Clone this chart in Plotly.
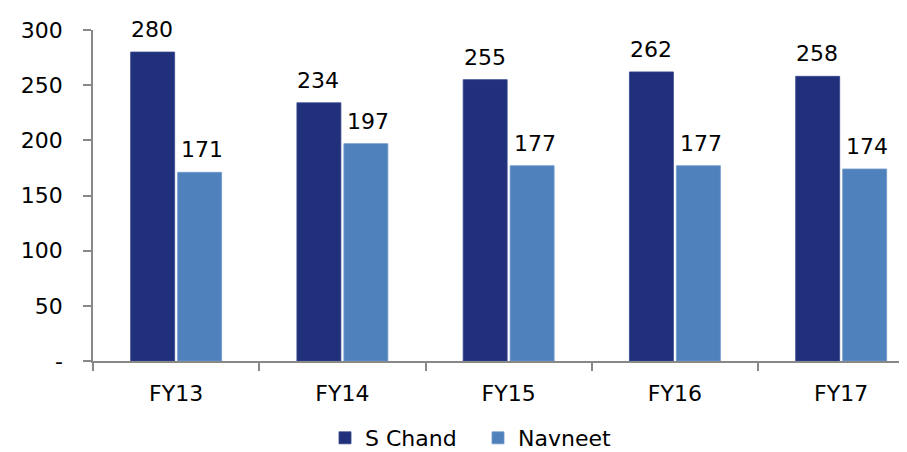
import plotly.graph_objects as go

categories = ["FY13", "FY14", "FY15", "FY16", "FY17"]
s_chand = [280, 234, 255, 262, 258]
navneet = [171, 197, 177, 177, 174]
y_ticks = [0, 50, 100, 150, 200, 250, 300]
y_ticktext = ["-", "50", "100", "150", "200", "250", "300"]

NAVY = "#21307B"
LIGHT = "#4F81BD"
FONT = "DejaVu Sans"
FS = 22
OFF = 8  # page body margin offset of the figure div

fig = go.Figure()
fig.add_trace(go.Bar(name="S Chand", x=categories, y=s_chand,
                     marker=dict(color=NAVY, line=dict(width=0.8, color="#34448C"))))
fig.add_trace(go.Bar(name="Navneet", x=categories, y=navneet,
                     marker=dict(color=LIGHT, line=dict(width=0.8, color="#6E98CB"))))

annotations = []
for series, shift in ((s_chand, -24), (navneet, 26)):
    for c, v in zip(categories, series):
        annotations.append(dict(x=c, y=v, xref="x", yref="y", text=str(v),
                                showarrow=False, yanchor="bottom",
                                xshift=shift, yshift=8,
                                font=dict(family=FONT, size=FS, color="#000")))

fig.update_layout(
    width=907, height=452,
    margin=dict(l=93 - OFF, r=OFF, t=30 - OFF, b=91 + OFF, autoexpand=False),
    paper_bgcolor="white", plot_bgcolor="white",
    barmode="group", bargap=0.435, bargroupgap=0.064,
    font=dict(family=FONT, size=FS, color="#000"),
    showlegend=True,
    legend=dict(orientation="h", xref="container", yref="container",
                x=(325 - OFF) / 907, xanchor="left", y=1 - (438 - OFF) / 452,
                yanchor="middle",
                entrywidth=108, font=dict(family=FONT, size=FS, color="#000"),
                bgcolor="rgba(0,0,0,0)"),
    annotations=annotations,
)
fig.update_xaxes(type="category", range=[-0.5, 4.396], tickson="boundaries",
                 ticks="outside", ticklen=8, tickcolor="#888", tickwidth=1.5,
                 showline=True, linecolor="#888", linewidth=1.5, automargin=False,
                 showgrid=False, zeroline=False, ticklabelstandoff=12,
                 tickfont=dict(family=FONT, size=FS, color="#000"))
fig.update_yaxes(range=[0, 300], tickvals=y_ticks, ticktext=y_ticktext,
                 ticks="outside", ticklen=8, tickcolor="#888", tickwidth=1.5,
                 showline=True, linecolor="#888", linewidth=1.5, automargin=False,
                 showgrid=False, zeroline=False, ticklabelstandoff=16,
                 tickfont=dict(family=FONT, size=FS, color="#000"))

fig.write_html("out.html")
